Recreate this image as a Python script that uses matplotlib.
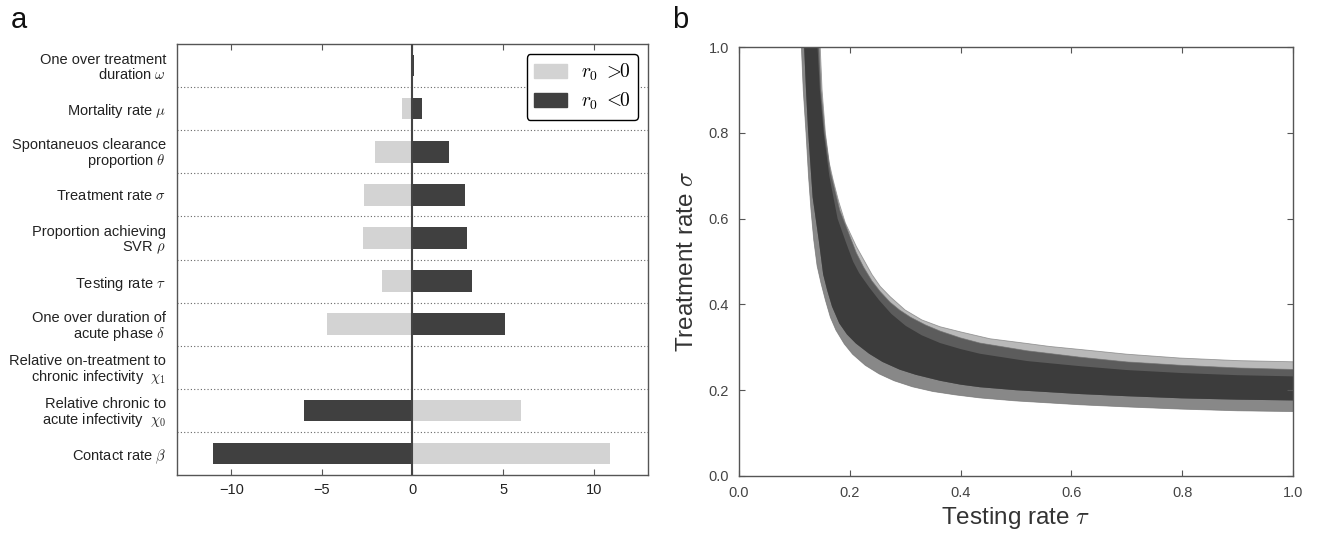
import numpy as np
import matplotlib
matplotlib.use('Agg')
import matplotlib.pyplot as plt
from matplotlib.patches import Patch

plt.rcParams['font.family'] = ['Liberation Sans', 'DejaVu Sans']
plt.rcParams['mathtext.fontset'] = 'cm'

# --- panel a: sensitivity of r0 to each parameter ---
params = [
    'Contact rate $\\beta$',
    'Relative chronic to\nacute infectivity  $\\chi_0$',
    'Relative on-treatment to\nchronic infectivity  $\\chi_1$',
    'One over duration of\nacute phase $\\delta$',
    'Testing rate $\\tau$',
    'Proportion achieving\nSVR $\\rho$',
    'Treatment rate $\\sigma$',
    'Spontaneuos clearance\nproportion $\\theta$',
    'Mortality rate $\\mu$',
    'One over treatment\nduration $\\omega$',
]
r0_pos = [10.9, 6.0, 0.0, -4.7, -1.7, -2.75, -2.7, -2.05, -0.6, 0.0]
r0_neg = [-11.0, -6.0, -0.1, 5.1, 3.3, 3.0, 2.9, 2.0, 0.5, 0.1]

# --- panel b: boundary curves of the sigma(tau) ensemble ---
# outer lower edge
lo_tau = [0.112, 0.116, 0.121, 0.1255, 0.130, 0.135, 0.141, 0.148, 0.156, 0.165, 0.175,
          0.190, 0.205, 0.228, 0.253, 0.280, 0.313, 0.350, 0.391, 0.435, 0.500, 0.616,
          0.700, 0.796, 0.900, 1.01]
lo_sig = [1.02, 0.90, 0.80, 0.70, 0.62, 0.55, 0.49, 0.45, 0.41, 0.37, 0.34,
          0.308, 0.284, 0.258, 0.238, 0.222, 0.208, 0.197, 0.189, 0.182, 0.175, 0.166,
          0.161, 0.156, 0.152, 0.150]
# lower edge of the dense core
core_lo_tau = [0.117, 0.121, 0.125, 0.133, 0.144, 0.152, 0.159, 0.168, 0.181, 0.195,
               0.211, 0.235, 0.259, 0.290, 0.319, 0.363, 0.400, 0.435, 0.500, 0.616,
               0.700, 0.800, 0.900, 1.01]
core_lo_sig = [1.02, 0.90, 0.80, 0.65, 0.55, 0.47, 0.434, 0.395, 0.356, 0.330,
               0.309, 0.285, 0.266, 0.248, 0.236, 0.222, 0.213, 0.207, 0.200, 0.191,
               0.186, 0.181, 0.178, 0.176]
# upper edge of the dense core
core_hi_tau = [0.141, 0.146, 0.153, 0.163, 0.178, 0.193, 0.206, 0.217, 0.235, 0.253,
               0.275, 0.301, 0.330, 0.363, 0.400, 0.435, 0.520, 0.616, 0.700, 0.800,
               0.900, 1.01]
core_hi_sig = [1.02, 0.90, 0.80, 0.70, 0.60, 0.545, 0.50, 0.473, 0.44, 0.410,
               0.378, 0.350, 0.328, 0.310, 0.296, 0.285, 0.268, 0.256, 0.247, 0.240,
               0.235, 0.232]
# upper limit of the mid-grey zone
mid_hi_tau = [0.144, 0.148, 0.155, 0.165, 0.182, 0.200, 0.212, 0.225, 0.240, 0.255,
              0.273, 0.290, 0.310, 0.337, 0.363, 0.400, 0.435, 0.520, 0.616, 0.700,
              0.800, 0.900, 1.01]
mid_hi_sig = [1.02, 0.90, 0.80, 0.71, 0.62, 0.56, 0.52, 0.487, 0.455, 0.43,
              0.405, 0.387, 0.370, 0.352, 0.338, 0.322, 0.310, 0.292, 0.277, 0.266,
              0.258, 0.252, 0.248]
# outer upper edge
hi_tau = [0.146, 0.150, 0.156, 0.163, 0.170, 0.180, 0.192, 0.212, 0.240, 0.255, 0.273,
          0.300, 0.330, 0.363, 0.400, 0.453, 0.520, 0.561, 0.616, 0.700, 0.796, 0.900,
          1.01]
hi_sig = [1.02, 0.90, 0.80, 0.73, 0.69, 0.64, 0.59, 0.535, 0.470, 0.442, 0.418,
          0.387, 0.364, 0.348, 0.336, 0.320, 0.309, 0.302, 0.295, 0.284, 0.275, 0.269,
          0.266]

LIGHT = '#d3d3d3'
DARK = '#404040'

fig = plt.figure(figsize=(13.21, 5.36), dpi=100)
ax1 = fig.add_axes([0.134, 0.1138, 0.3565, 0.804])
ax2 = fig.add_axes([0.5594, 0.112, 0.4194, 0.80])

ypos = np.arange(len(params))
ax1.barh(ypos, r0_pos, height=0.5, color=LIGHT, zorder=2)
ax1.barh(ypos, r0_neg, height=0.5, color=DARK, zorder=2)
ax1.axvline(0, color='#444444', lw=1.5, zorder=3)
for k in range(len(params) - 1):
    ax1.axhline(k + 0.5, color='#666666', lw=0.8, ls=(0, (1, 2)), zorder=1)
ax1.set_xlim(-13, 13)
ax1.set_ylim(-0.5, len(params) - 0.5)
ax1.set_xticks([-10, -5, 0, 5, 10])
ax1.set_xticklabels(['\u221210', '\u22125', '0', '5', '10'])
ax1.set_yticks(ypos)
ax1.set_yticklabels(params, fontsize=10.5, linespacing=1.0)
ax1.tick_params(axis='x', direction='in', top=True, length=4, pad=6,
                labelsize=10.5, colors='#222222', color='#555555')
ax1.tick_params(axis='y', length=0, pad=8, colors='#222222')
for s in ax1.spines.values():
    s.set_color('#555555')
    s.set_linewidth(1.0)

handles = [Patch(facecolor=LIGHT, edgecolor=LIGHT),
           Patch(facecolor=DARK, edgecolor=DARK)]
leg = ax1.legend(handles, ['$r_0$ $>\\!\\!0$', '$r_0$ $<\\!\\!0$'],
                 loc='upper right', fontsize=14, frameon=True, fancybox=True,
                 handlelength=1.7, handleheight=0.75, borderaxespad=0.5,
                 handletextpad=0.7, labelspacing=0.4, borderpad=0.4)
leg.get_frame().set_edgecolor('black')
leg.get_frame().set_linewidth(1.0)
leg.get_frame().set_alpha(1)


def band(ax, t_lo, s_lo, t_hi, s_hi, color):
    xs = np.r_[t_lo, t_hi[::-1]]
    ys = np.r_[s_lo, s_hi[::-1]]
    ax.fill(xs, ys, color=color, lw=0)


band(ax2, lo_tau, lo_sig, hi_tau, hi_sig, '#b9b9b9')
band(ax2, lo_tau, lo_sig, mid_hi_tau, mid_hi_sig, '#888888')
band(ax2, core_lo_tau, core_lo_sig, mid_hi_tau, mid_hi_sig, '#5c5c5c')
band(ax2, core_lo_tau, core_lo_sig, core_hi_tau, core_hi_sig, '#3c3c3c')
for t, s in [(lo_tau, lo_sig), (hi_tau, hi_sig), (mid_hi_tau, mid_hi_sig)]:
    ax2.plot(t, s, color='#7a7a7a', lw=0.6, alpha=0.7)

ticks = np.arange(0, 1.01, 0.2)
ax2.set_xlim(0, 1)
ax2.set_ylim(0, 1)
ax2.set_xticks(ticks)
ax2.set_yticks(ticks)
ax2.set_xticklabels(['%.1f' % v for v in ticks])
ax2.set_yticklabels(['%.1f' % v for v in ticks])
ax2.tick_params(direction='in', top=True, right=True, length=4, pad=7,
                labelsize=10.5, colors='#444444', color='#555555')
ax2.set_xlabel('Testing rate $\\tau$', fontsize=17.5, color='#333333', labelpad=4)
ax2.set_ylabel('Treatment rate $\\sigma$', fontsize=17.5, color='#333333', labelpad=8)
for s in ax2.spines.values():
    s.set_color('#555555')
    s.set_linewidth(1.0)

fig.text(0.0085, 0.962, 'a', fontsize=21, va='center', ha='left', color='#111111')
fig.text(0.509, 0.962, 'b', fontsize=21, va='center', ha='left', color='#111111')

fig.savefig('out.png', dpi=100)
